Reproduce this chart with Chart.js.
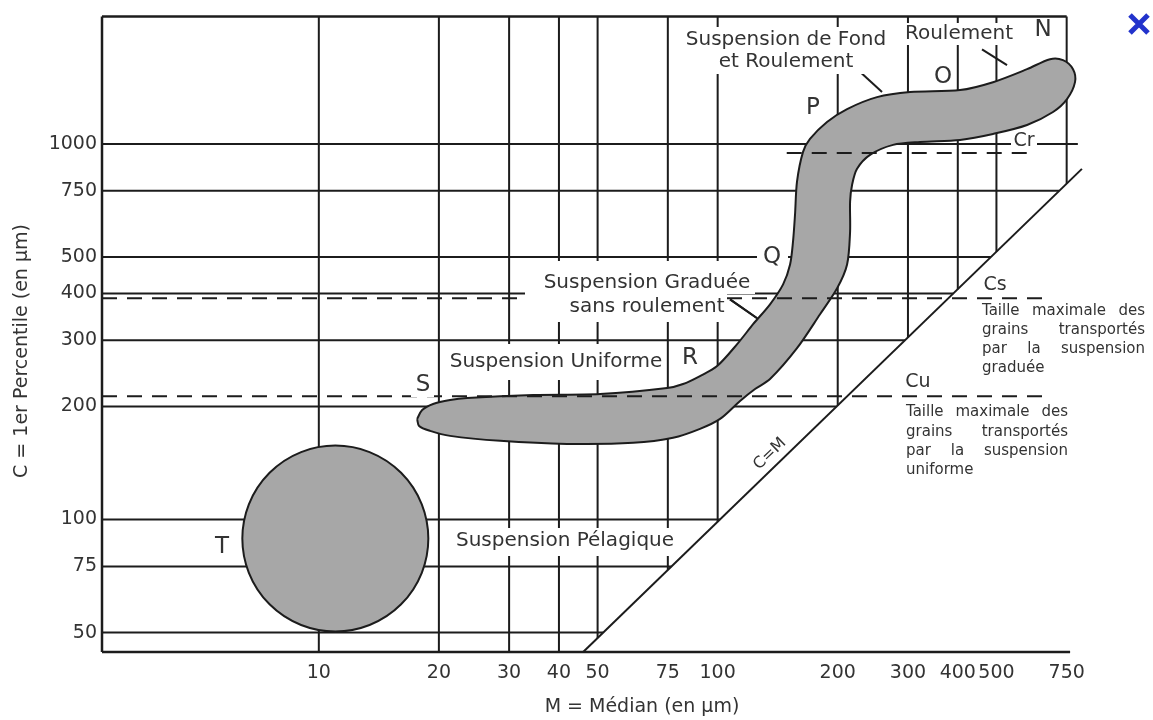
<!DOCTYPE html>
<html>
<head>
<meta charset="utf-8">
<script src="https://cdn.jsdelivr.net/npm/chart.js@4.4.0/dist/chart.umd.min.js"></script>
<style>
  html, body { margin: 0; padding: 0; background: #fff; }
</style>
</head>
<body>
<canvas id="cm-chart" width="1153" height="720"></canvas>
<script>
// Diagramme CM (Passega) - axes log / log

// graduations
const xTicks = [10, 20, 30, 40, 50, 75, 100, 200, 300, 400, 500, 750];
const yTicks = [50, 75, 100, 200, 300, 400, 500, 750, 1000];
const xMin = 2.86, xMax = 810;
const yMin = 44.4, yMax = 2185;

// droite C = M
const diagonalM = [46, 819];
const diagonalC = [44.4, 858];

// contour de la bande N-O-P-Q-R-S
const bandM = [17.64, 18.16, 19.34, 21.34, 23.53, 34.45, 50.72, 74.69, 81.9, 90.3, 99.7, 111.9, 122.7, 135.3, 145.9, 151.9, 154.5, 156.3, 158.1, 163.7, 170.4, 188.0,
  211.1, 250.9, 303.7, 405.3, 490.2, 596.7, 681.3, 734.4, 778.0, 787.0, 751.5, 693.2, 596.7, 490.2, 405.3, 321.7, 275.3, 241.0, 223.6, 217.3,
  214.8, 214.8, 211.1, 199.3, 180.6, 158.1, 135.3, 124.1, 113.8, 101.4, 90.3, 77.3, 61.4, 41.9, 28.5, 21.34, 19.01, 17.84, 17.64];
const bandC = [185.3, 195.7, 203.1, 208.1, 210.7, 214.6, 215.9, 223.9, 229.5, 241.0, 256.2, 293.0, 331.1, 374.1, 422.7, 477.5, 549.6, 648.1, 793.0, 952.3, 1031, 1144,
  1238, 1332, 1374, 1391, 1460, 1581, 1681, 1671, 1581, 1460, 1316, 1216, 1123, 1063, 1025, 1012, 994, 935, 858.6, 778.5,
  701.9, 584.1, 477.5, 412.6, 351.9, 285.9, 236.6, 222.6, 206.9, 185.3, 174.3, 165.0, 160.0, 159.0, 162.0, 167.0, 172.2, 177.5, 185.3];

// cercle T (suspension pélagique)
const circleM = [11];
const circleC = [89];

// limites Cr, Cs, Cu
const levelNames = ['Cr', 'Cs', 'Cu'];
const levelC = [946, 388, 213];
const levelFromM = [149, xMin, xMin];
const levelToM = [614, 670, 670];

// traits de rappel
const leaderM = [[107.4, 125.6], [221, 258.3], [460, 531.5]];
const leaderC = [[385.7, 343.4], [1600, 1374], [1786, 1620]];

const lg = Math.log10;
function diagC(m) {
  const t = (lg(m) - lg(diagonalM[0])) / (lg(diagonalM[1]) - lg(diagonalM[0]));
  return 10 ** (lg(diagonalC[0]) + t * (lg(diagonalC[1]) - lg(diagonalC[0])));
}
function diagM(c) {
  const t = (lg(c) - lg(diagonalC[0])) / (lg(diagonalC[1]) - lg(diagonalC[0]));
  return 10 ** (lg(diagonalM[0]) + t * (lg(diagonalM[1]) - lg(diagonalM[0])));
}

const INK = '#1c1c1c';
const GREY = '#a7a7a7';
const TEXT = '#333333';
const FONT = 'DejaVu Sans';

const lineStyle = { borderColor: INK, pointRadius: 0, fill: false, clip: false, tension: 0 };
const datasets = [];

// quadrillage coupé par la droite C = M
xTicks.forEach(m => {
  const bottom = m <= diagonalM[0] ? yMin : diagC(m);
  datasets.push({ ...lineStyle, borderWidth: 2, order: 5, data: [{ x: m, y: yMax }, { x: m, y: bottom }] });
});
yTicks.forEach(c => {
  const right = Math.min(diagM(c), 800);
  datasets.push({ ...lineStyle, borderWidth: 2, order: 5, data: [{ x: xMin, y: c }, { x: right, y: c }] });
});

// cadre
datasets.push({ ...lineStyle, borderWidth: 2.5, order: 4, data: [{ x: xMin, y: yMin }, { x: xMin, y: yMax }] });
datasets.push({ ...lineStyle, borderWidth: 2.5, order: 4, data: [{ x: xMin, y: yMax }, { x: 750, y: yMax }] });
datasets.push({ ...lineStyle, borderWidth: 2.5, order: 4, data: [{ x: xMin, y: yMin }, { x: 765, y: yMin }] });

// bande grise
datasets.push({
  data: bandM.map((m, i) => ({ x: m, y: bandC[i] })),
  borderColor: INK, borderWidth: 2, backgroundColor: GREY,
  fill: 'shape', tension: 0.3, pointRadius: 0, clip: false, order: 3
});

// cercle T
datasets.push({
  data: circleM.map((m, i) => ({ x: m, y: circleC[i] })),
  showLine: false, pointRadius: 93, pointStyle: 'circle',
  pointBackgroundColor: GREY, pointBorderColor: INK, pointBorderWidth: 2,
  clip: false, order: 3
});

// droite C = M
datasets.push({ ...lineStyle, borderWidth: 2, order: 2, data: diagonalM.map((m, i) => ({ x: m, y: diagonalC[i] })) });

// tiretés Cr / Cs / Cu
levelNames.forEach((name, i) => {
  datasets.push({
    ...lineStyle, label: name, borderWidth: 2, borderDash: [15, 10], order: 1,
    data: [{ x: levelFromM[i], y: levelC[i] }, { x: levelToM[i], y: levelC[i] }]
  });
});

// traits de rappel
leaderM.forEach((ms, i) => {
  datasets.push({ ...lineStyle, borderWidth: 2, order: 1, data: ms.map((m, j) => ({ x: m, y: leaderC[i][j] })) });
});

// textes, cases blanches
const whiteBoxes = [
  [680, 27, 892, 74], [902, 23, 1016, 45], [525, 261, 755, 294], [525, 294, 727, 322], [445, 344, 665, 380],
  [450, 528, 681, 556], [757, 246, 788, 268], [411, 374, 434, 397], [1011, 131, 1037, 148]
];
const labels = [
  ['Suspension de Fond', 786, 40, 20], ['et Roulement', 786, 62, 20], ['Roulement', 959, 34, 20],
  ['Suspension Graduée', 647, 283, 20], ['sans roulement', 647, 307, 20],
  ['Suspension Uniforme', 556, 362, 20], ['Suspension Pélagique', 565, 541, 20],
  ['N', 1043, 30, 23], ['O', 943, 77, 23], ['P', 813, 108, 23], ['Q', 772, 257, 23],
  ['R', 690, 358, 23], ['S', 423, 385, 23], ['T', 222, 547, 23],
  ['Cr', 1024, 141, 19], ['Cs', 995, 285, 19], ['Cu', 918, 382, 19]
];
const notes = [
  { x0: 982, x1: 1145, ys: [311, 330, 349, 368], lines: ['Taille maximale des', 'grains transportés', 'par la suspension', 'graduée'] },
  { x0: 906, x1: 1068, ys: [412, 432, 451, 470], lines: ['Taille maximale des', 'grains transportés', 'par la suspension', 'uniforme'] }
];

function drawJustified(ctx, text, x0, x1, y, last) {
  const words = text.split(' ');
  if (last || words.length < 2) { ctx.fillText(text, x0, y); return; }
  const total = words.reduce((s, w) => s + ctx.measureText(w).width, 0);
  const gap = (x1 - x0 - total) / (words.length - 1);
  let x = x0;
  words.forEach(w => { ctx.fillText(w, x, y); x += ctx.measureText(w).width + gap; });
}

const annotationPlugin = {
  id: 'cmAnnotations',
  afterDatasetsDraw(chart) {
    const ctx = chart.ctx;
    const xs = chart.scales.x, ys = chart.scales.y;
    ctx.save();
    ctx.fillStyle = '#ffffff';
    whiteBoxes.forEach(b => ctx.fillRect(b[0], b[1], b[2] - b[0], b[3] - b[1]));

    ctx.fillStyle = TEXT;
    ctx.textBaseline = 'middle';
    ctx.textAlign = 'center';
    labels.forEach(([t, x, y, s]) => {
      ctx.font = s + 'px "' + FONT + '"';
      ctx.fillText(t, x, y);
    });

    ctx.font = '15px "' + FONT + '"';
    ctx.textAlign = 'left';
    notes.forEach(n => n.lines.forEach((l, i) => drawJustified(ctx, l, n.x0, n.x1, n.ys[i], i === n.lines.length - 1)));

    // C=M le long de la diagonale
    const p0x = xs.getPixelForValue(diagonalM[0]), p0y = ys.getPixelForValue(diagonalC[0]);
    const p1x = xs.getPixelForValue(diagonalM[1]), p1y = ys.getPixelForValue(diagonalC[1]);
    ctx.translate(770, 454);
    ctx.rotate(Math.atan2(p1y - p0y, p1x - p0x));
    ctx.textAlign = 'center';
    ctx.font = '16px "' + FONT + '"';
    ctx.fillText('C=M', 0, 0);
    ctx.restore();

    // titres des axes
    ctx.save();
    ctx.fillStyle = TEXT;
    ctx.textAlign = 'center';
    ctx.textBaseline = 'middle';
    ctx.font = '19px "' + FONT + '"';
    ctx.fillText('M = Médian (en µm)', 642, 707);
    ctx.translate(22, 351);
    ctx.rotate(-Math.PI / 2);
    ctx.fillText('C = 1er Percentile (en µm)', 0, 0);
    ctx.restore();

    // croix bleue
    ctx.save();
    ctx.strokeStyle = '#2233cc';
    ctx.lineWidth = 5;
    ctx.beginPath();
    ctx.moveTo(1130, 15); ctx.lineTo(1148, 33);
    ctx.moveTo(1148, 15); ctx.lineTo(1130, 33);
    ctx.stroke();
    ctx.restore();

    // trait de rappel de la suspension graduée (au-dessus de la case)
    ctx.save();
    ctx.strokeStyle = INK;
    ctx.lineWidth = 2;
    ctx.beginPath();
    ctx.moveTo(xs.getPixelForValue(leaderM[0][0]), ys.getPixelForValue(leaderC[0][0]));
    ctx.lineTo(xs.getPixelForValue(leaderM[0][1]), ys.getPixelForValue(leaderC[0][1]));
    ctx.stroke();
    ctx.restore();
  }
};

const tickFont = { family: FONT, size: 19 };

new Chart(document.getElementById('cm-chart'), {
  type: 'line',
  data: { datasets: datasets },
  options: {
    responsive: false,
    animation: false,
    events: [],
    layout: { autoPadding: false, padding: { top: 14, right: 73, left: 0, bottom: 0 } },
    plugins: { legend: { display: false }, tooltip: { enabled: false } },
    scales: {
      x: {
        type: 'logarithmic', min: xMin, max: xMax, bounds: 'data',
        grid: { display: false, drawTicks: false }, border: { display: false },
        afterBuildTicks: s => { s.ticks = xTicks.map(v => ({ value: v })); },
        afterFit: s => { s.height = 68; },
        ticks: { autoSkip: false, maxRotation: 0, padding: 10, color: TEXT, font: tickFont, callback: v => String(v) }
      },
      y: {
        type: 'logarithmic', min: yMin, max: yMax, bounds: 'data',
        grid: { display: false, drawTicks: false }, border: { display: false },
        afterBuildTicks: s => { s.ticks = yTicks.map(v => ({ value: v })); },
        afterFit: s => { s.width = 102; },
        ticks: { autoSkip: false, padding: 5, color: TEXT, font: tickFont, callback: v => String(v) }
      }
    }
  },
  plugins: [annotationPlugin]
});
</script>
</body>
</html>
